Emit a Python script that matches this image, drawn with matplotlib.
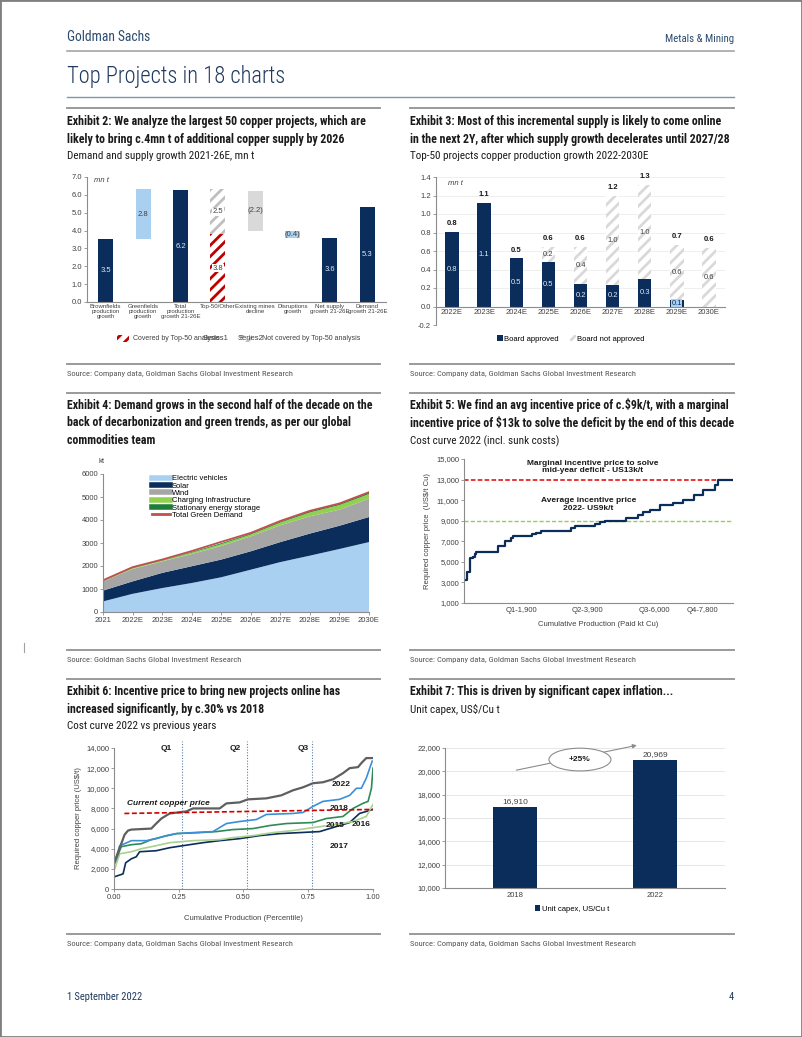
import os
import matplotlib
matplotlib.use('Agg')
import matplotlib.pyplot as plt
from matplotlib import font_manager as fm
from matplotlib.lines import Line2D
from matplotlib.patches import Rectangle, Ellipse

plt.rcParams['font.family'] = 'Liberation Sans'
plt.rcParams['hatch.linewidth'] = 2.0

W, H = 802, 1037
NAVY = '#0B2D5B'
LBLUE = '#A9D0F0'
GREY_TXT = '#404040'

# ---- data: Exhibit 2 (mn t)
ex2_cats = ['Brownfields\nproduction\ngrowth', 'Greenfields\nproduction\ngrowth',
            'Total\nproduction\ngrowth 21-26E', 'Top-50/Other', 'Existing mines\ndecline',
            'Disruptions\ngrowth', 'Net supply\ngrowth 21-26E', 'Demand\ngrowth 21-26E']
ex2_bottom = [0, 3.5, 0, 0, 4.0, 3.6, 0, 0]
ex2_height = [3.5, 2.8, 6.25, 3.8, 2.2, 0.4, 3.6, 5.3]
ex2_labels = ['3.5', '2.8', '6.2', '3.8', '(2.2)', '(0.4)', '3.6', '5.3']
ex2_other_bottom = 3.8
ex2_other_height = 2.5

# ---- data: Exhibit 3 (mn t)
ex3_years = ['2022E', '2023E', '2024E', '2025E', '2026E', '2027E', '2028E', '2029E', '2030E']
ex3_approved = [0.81, 1.12, 0.52, 0.48, 0.24, 0.23, 0.30, 0.07, -0.01]
ex3_not_approved = [0, 0, 0, 0.16, 0.40, 0.97, 1.01, 0.60, 0.63]
ex3_appr_lbl = ['0.8', '1.1', '0.5', '0.5', '0.2', '0.2', '0.3', '0.1', '']
ex3_not_lbl = ['', '', '', '0.2', '0.4', '1.0', '1.0', '0.6', '0.6']
ex3_total_lbl = ['0.8', '1.1', '0.5', '0.6', '0.6', '1.2', '1.3', '0.7', '0.6']

# ---- data: Exhibit 4 (kt)
ex4_years = ['2021', '2022E', '2023E', '2024E', '2025E', '2026E', '2027E', '2028E', '2029E', '2030E']
ex4_ev = [460, 790, 1040, 1260, 1510, 1840, 2170, 2450, 2740, 3040]
ex4_solar = [470, 540, 660, 730, 770, 800, 870, 960, 1010, 1090]
ex4_wind = [400, 540, 500, 530, 590, 650, 730, 750, 700, 800]
ex4_charging = [20, 40, 40, 60, 80, 80, 120, 170, 200, 200]
ex4_storage = [20, 20, 20, 30, 40, 40, 40, 50, 50, 60]
ex4_total = [1380, 1950, 2280, 2650, 3050, 3440, 3960, 4400, 4720, 5210]

# ---- data: Exhibit 5 cost curve 2022 (cumulative kt, US$/t)
ex5_x = [0, 109, 196, 293, 348, 402, 1109, 1326, 1522, 1598, 2228, 2359, 2500, 3500, 3609,
         4261, 4424, 4587, 5294, 5674, 5837, 6055, 6381, 6815, 7142, 7500, 7794, 8174, 8283, 8772]
ex5_y = [3200, 4000, 5400, 5500, 5800, 6000, 6500, 7000, 7300, 7500, 7700, 7800, 8000, 8300, 8500,
         8700, 8900, 9000, 9300, 9600, 9800, 10000, 10500, 10700, 11000, 11500, 12000, 12500, 13000, 13000]
ex5_ticks = [1870, 4040, 6220, 7790]
ex5_ticklabels = ['Q1-1,900', 'Q2-3,900', 'Q3-6,000', 'Q4-7,800']

# ---- data: Exhibit 6 cost curves (percentile, US$/t)
c2022_x = [0, 0.041, 0.054, 0.067, 0.144, 0.163, 0.183, 0.202, 0.215, 0.279, 0.305, 0.408, 0.434,
           0.485, 0.517, 0.588, 0.646, 0.691, 0.730, 0.768, 0.807, 0.846, 0.884, 0.910, 0.942, 0.955, 0.974, 1.0]
c2022_y = [2550, 5400, 5800, 5900, 6000, 6500, 7000, 7300, 7500, 7700, 8000, 8000, 8500,
           8600, 8900, 9000, 9300, 9800, 10100, 10500, 10600, 10900, 11500, 12000, 12100, 12500, 13000, 13000]
c2018_x = [0.006, 0.022, 0.041, 0.067, 0.125, 0.163, 0.202, 0.241, 0.305, 0.382, 0.408, 0.434, 0.485,
           0.550, 0.588, 0.691, 0.730, 0.768, 0.807, 0.871, 0.910, 0.936, 0.955, 0.974, 0.997]
c2018_y = [2800, 4300, 4500, 4800, 4800, 5000, 5300, 5500, 5600, 5700, 6100, 6500, 6700,
           6900, 7400, 7500, 7600, 8200, 8700, 8900, 9300, 10000, 10000, 11000, 12700]
c2016_x = [0.003, 0.028, 0.067, 0.106, 0.144, 0.189, 0.241, 0.331, 0.395, 0.459, 0.537, 0.601, 0.665,
           0.768, 0.820, 0.884, 0.923, 0.961, 0.981, 0.994, 1.0]
c2016_y = [2600, 4200, 4400, 4500, 4900, 5200, 5500, 5600, 5700, 5900, 6000, 6300, 6500,
           6600, 7000, 7200, 8000, 8500, 8700, 10000, 12000]
c2015_x = [0.003, 0.022, 0.067, 0.106, 0.163, 0.215, 0.305, 0.408, 0.459, 0.537, 0.614, 0.691, 0.768,
           0.858, 0.923, 0.974, 1.0]
c2015_y = [2000, 3500, 3700, 4000, 4300, 4600, 4800, 4900, 5100, 5300, 5600, 5800, 6100,
           6400, 6700, 7200, 8400]
c2017_x = [0, 0.035, 0.045, 0.067, 0.086, 0.099, 0.163, 0.215, 0.266, 0.344, 0.408, 0.485, 0.562,
           0.640, 0.717, 0.794, 0.858, 0.910, 0.948, 0.987, 1.0]
c2017_y = [1200, 1500, 2600, 3000, 3200, 3700, 3800, 4100, 4300, 4600, 4800, 5000, 5300,
           5500, 5600, 5700, 6200, 6600, 7500, 7800, 7900]
ex6_quartiles = [0.264, 0.513, 0.766]
ex6_copper_x = [0.04, 1.0]
ex6_copper_y = [7500, 7900]

# ---- data: Exhibit 7 unit capex
ex7_years = ['2018', '2022']
ex7_capex = [16910, 20969]


# condensed face for the report text (whatever narrow font is installed)
font_files = {os.path.basename(f.fname).lower(): f.fname for f in fm.fontManager.ttflist}
cond_reg, cond_bold = None, None
for reg, bold in [('robotocondensed-regular.ttf', 'robotocondensed-bold.ttf'),
                  ('liberationsansnarrow-regular.ttf', 'liberationsansnarrow-bold.ttf'),
                  ('notosans-condensed.ttf', 'notosans-condensedbold.ttf'),
                  ('dejavusanscondensed.ttf', 'dejavusanscondensed-bold.ttf'),
                  ('opensans-condensedregular.ttf', 'opensans-condensedbold.ttf')]:
    if reg in font_files and bold in font_files:
        cond_reg, cond_bold = font_files[reg], font_files[bold]
        break
cond_light = font_files.get('robotocondensed-light.ttf', cond_reg)


def cfont(bold=False, light=False):
    path = cond_bold if bold else (cond_light if light else cond_reg)
    if path:
        return fm.FontProperties(fname=path)
    return fm.FontProperties(family='Liberation Sans', weight='bold' if bold else 'normal')


fig = plt.figure(figsize=(8.02, 10.37), dpi=100)
renderer = fig.canvas.get_renderer()


def add_ax(l, t, r, b):
    return fig.add_axes([l / W, 1 - b / H, (r - l) / W, (b - t) / H])


def ftext(x, y, s, **kw):
    kw.setdefault('va', 'center')
    return fig.text(x / W, 1 - y / H, s, **kw)


def fit_size(s, bold, target_px, light=False):
    # font size that gives the printed width of this line
    fp = cfont(bold, light)
    fp.set_size(10)
    t = fig.text(0, 0, s, fontproperties=fp)
    w = t.get_window_extent(renderer=renderer).width
    t.remove()
    return 10 * target_px / w


def ctext(x, y, s, size, bold=False, light=False, **kw):
    fp = cfont(bold, light)
    fp.set_size(size)
    return ftext(x, y, s, fontproperties=fp, **kw)


def hline(x0, x1, y, color='#9A9A9A', lw=1.4):
    fig.add_artist(Line2D([x0 / W, x1 / W], [1 - y / H, 1 - y / H], color=color, lw=lw))


def style(ax):
    for s in ['top', 'right']:
        ax.spines[s].set_visible(False)
    for s in ['left', 'bottom']:
        ax.spines[s].set_color('#8C8C8C')
        ax.spines[s].set_linewidth(0.8)
    ax.tick_params(labelsize=5.5, colors='#8C8C8C', labelcolor=GREY_TXT, length=2, width=0.6, pad=1.5)


# ---- page furniture
fig.add_artist(Rectangle((0, 0), 1, 1, transform=fig.transFigure, fill=False, ec='#7F7F7F', lw=2))
ctext(67, 37, 'Goldman Sachs', fit_size('Goldman Sachs', False, 83), color='#2B4A6F')
ctext(734, 39, 'Metals & Mining', fit_size('Metals & Mining', False, 68), color='#2B4A6F', ha='right')
hline(67, 734, 51, '#A6A6A6', 1.2)
ctext(67, 76, 'Top Projects in 18 charts', fit_size('Top Projects in 18 charts', False, 218, True),
      light=True, color='#1F3A60')
hline(67, 734, 97, '#7F94AE', 1.0)
fig.add_artist(Line2D([24 / W, 24 / W], [1 - 643 / H, 1 - 652 / H], color='#A0A0A0', lw=0.8))

L0, L1, R0, R1 = 67, 380, 410, 734
for y in [108, 393, 679, 364, 650, 934]:
    hline(L0, L1, y)
    hline(R0, R1, y)

TB = fit_size('Exhibit 3: Most of this incremental supply is likely to come online', True, 311)
TS = fit_size('Top-50 projects copper production growth 2022-2030E', False, 238)
SR = fit_size('Source: Company data, Goldman Sachs Global Investment Research', False, 225)
TXT = '#1A1A1A'

ctext(L0, 121, 'Exhibit 2: We analyze the largest 50 copper projects, which are', TB, True, color=TXT)
ctext(L0, 139, 'likely to bring c.4mn t of additional copper supply by 2026', TB, True, color=TXT)
ctext(L0, 156, 'Demand and supply growth 2021-26E, mn t', TS, color=TXT)
ctext(R0, 121, 'Exhibit 3: Most of this incremental supply is likely to come online', TB, True, color=TXT)
ctext(R0, 139, 'in the next 2Y, after which supply growth decelerates until 2027/28', TB, True, color=TXT)
ctext(R0, 156, 'Top-50 projects copper production growth 2022-2030E', TS, color=TXT)
ctext(L0, 374, 'Source: Company data, Goldman Sachs Global Investment Research', SR, color='#555555')
ctext(R0, 374, 'Source: Company data, Goldman Sachs Global Investment Research', SR, color='#555555')

ctext(L0, 405, 'Exhibit 4: Demand grows in the second half of the decade on the', TB, True, color=TXT)
ctext(L0, 423, 'back of decarbonization and green trends, as per our global', TB, True, color=TXT)
ctext(L0, 441, 'commodities team', TB, True, color=TXT)
ctext(R0, 405, 'Exhibit 5: We find an avg incentive price of c.\\$9k/t, with a marginal', TB, True, color=TXT)
ctext(R0, 423, 'incentive price of \\$13k to solve the deficit by the end of this decade', TB, True, color=TXT)
ctext(R0, 441, 'Cost curve 2022 (incl. sunk costs)', TS, color=TXT)
ctext(L0, 660, 'Source: Goldman Sachs Global Investment Research', SR, color='#555555')
ctext(R0, 660, 'Source: Company data, Goldman Sachs Global Investment Research', SR, color='#555555')

ctext(L0, 691, 'Exhibit 6: Incentive price to bring new projects online has', TB, True, color=TXT)
ctext(L0, 709, 'increased significantly, by c.30% vs 2018', TB, True, color=TXT)
ctext(L0, 726, 'Cost curve 2022 vs previous years', TS, color=TXT)
ctext(R0, 691, 'Exhibit 7: This is driven by significant capex inflation...', TB, True, color=TXT)
ctext(R0, 709, 'Unit capex, US\\$/Cu t', TS, color=TXT)
ctext(L0, 944, 'Source: Company data, Goldman Sachs Global Investment Research', SR, color='#555555')
ctext(R0, 944, 'Source: Company data, Goldman Sachs Global Investment Research', SR, color='#555555')

FT = fit_size('1 September 2022', False, 75)
ctext(L0, 997, '1 September 2022', FT, color='#1F3A60')
ctext(R1, 997, '4', FT, color='#1F3A60', ha='right')

# ---- Exhibit 2
ax = add_ax(87, 177, 386, 302)
style(ax)
x2 = list(range(len(ex2_cats)))
fills = [NAVY, LBLUE, NAVY, None, '#D9D9D9', LBLUE, NAVY, NAVY]
for i in x2:
    if fills[i] is None:
        ax.bar(i, ex2_height[i], bottom=ex2_bottom[i], width=0.4, color='white',
               edgecolor='#C00000', hatch='///', linewidth=0)
        ax.bar(i, ex2_other_height, bottom=ex2_other_bottom, width=0.4, color='white',
               edgecolor='#BFBFBF', hatch='///', linewidth=0)
    else:
        ax.bar(i, ex2_height[i], bottom=ex2_bottom[i], width=0.4, color=fills[i], linewidth=0)
for i in x2:
    yc = ex2_bottom[i] + ex2_height[i] / 2
    if fills[i] == NAVY:
        ax.text(i, yc, ex2_labels[i], ha='center', va='center', fontsize=5.5, color='#DDEBF7')
    elif fills[i] is None:
        ax.text(i, yc, ex2_labels[i], ha='center', va='center', fontsize=5.5, color='#404040',
                bbox=dict(fc='white', ec='none', pad=0.3))
        ax.text(i, ex2_other_bottom + ex2_other_height / 2, '2.5', ha='center', va='center',
                fontsize=5.5, color='#404040', bbox=dict(fc='white', ec='none', pad=0.3))
    else:
        ax.text(i, yc, ex2_labels[i], ha='center', va='center', fontsize=5.5, color='#404040')
ax.set_xlim(-0.5, 7.5)
ax.set_ylim(0, 7)
ax.set_yticks([0, 1, 2, 3, 4, 5, 6, 7])
ax.set_yticklabels(['%.1f' % v for v in range(8)])
ax.set_xticks(x2)
ax.set_xticklabels(ex2_cats, fontsize=4.4, linespacing=1.0)
ax.tick_params(axis='x', length=0)
ax.text(-0.3, 6.8, 'mn t', fontsize=5.5, style='italic', color='#404040', va='center')
# legend as printed in the report (labels overlap there too)
for (x0, col) in [(117, '#C00000'), (240, '#BFBFBF')]:
    fig.add_artist(Rectangle((x0 / W, 1 - 342 / H), 12 / W, 7 / H, transform=fig.transFigure,
                             facecolor='white', edgecolor=col, hatch='///', lw=0))
ftext(133, 338, 'Covered by Top-50 analysis', fontsize=5, color='#404040')
ftext(203, 338, 'Series1', fontsize=5.5, color='#404040')
ftext(238, 338, 'Series2', fontsize=5.5, color='#404040')
ftext(262, 338, 'Not covered by Top-50 analysis', fontsize=5, color='#404040')

# ---- Exhibit 3
ax = add_ax(436, 177, 725, 325)
style(ax)
x3 = list(range(len(ex3_years)))
ax.bar(x3, ex3_approved, width=0.42, color=NAVY, linewidth=0, zorder=2)
bot = [max(v, 0) for v in ex3_approved]
ax.bar(x3, ex3_not_approved, bottom=bot, width=0.42, color='white', edgecolor='#D9D9D9',
       hatch='///', linewidth=0, zorder=2)
for i in x3:
    a, n = ex3_approved[i], ex3_not_approved[i]
    if ex3_appr_lbl[i]:
        if a > 0.15:
            ax.text(i, a / 2, ex3_appr_lbl[i], ha='center', va='center', fontsize=5.5, color='#DDEBF7', zorder=3)
        else:
            ax.text(i, 0.035, ex3_appr_lbl[i], ha='center', va='center', fontsize=5.5, color=NAVY, zorder=3,
                    bbox=dict(fc=LBLUE, ec='none', pad=0.3))
    if ex3_not_lbl[i]:
        ax.text(i, bot[i] + n / 2, ex3_not_lbl[i], ha='center', va='center', fontsize=5.5, color='#404040', zorder=3)
    ax.text(i, max(a, 0) + n + 0.09, ex3_total_lbl[i], ha='center', va='center', fontsize=5.5,
            fontweight='bold', color='#1A1A1A', zorder=3)
ax.set_xlim(-0.5, 8.5)
ax.set_ylim(-0.2, 1.4)
ax.set_yticks([-0.2, 0, 0.2, 0.4, 0.6, 0.8, 1.0, 1.2, 1.4])
ax.set_yticklabels(['-0.2', '0.0', '0.2', '0.4', '0.6', '0.8', '1.0', '1.2', '1.4'])
ax.spines['bottom'].set_position(('data', 0))
ax.set_xticks(x3)
ax.set_xticklabels(ex3_years)
ax.tick_params(axis='x', length=0)
ax.yaxis.grid(True, color='#EDEDED', lw=0.6, zorder=0)
ax.set_axisbelow(True)
ax.text(-0.12, 1.33, 'mn t', fontsize=5.5, style='italic', color='#404040', va='center')
fig.legend(handles=[Rectangle((0, 0), 1, 1, fc=NAVY, lw=0),
                    Rectangle((0, 0), 1, 1, fc='white', ec='#D9D9D9', hatch='///', lw=0)],
           labels=['Board approved', 'Board not approved'], ncol=2, frameon=False, fontsize=5.5,
           handlelength=0.7, handleheight=0.7, handletextpad=0.2, columnspacing=1.5,
           loc='center', bbox_to_anchor=(571 / W, 1 - 339 / H))

# ---- Exhibit 4
ax = add_ax(103, 474, 369, 612)
style(ax)
x4 = list(range(len(ex4_years)))
ax.stackplot(x4, ex4_ev, ex4_solar, ex4_wind, ex4_charging, ex4_storage,
             colors=[LBLUE, NAVY, '#A6A6A6', '#92D050', '#1E7D3C'], linewidth=0)
ax.plot(x4, ex4_total, color='#C0504D', lw=1.3)
ax.set_xlim(0, 9)
ax.set_ylim(0, 6000)
ax.set_yticks(range(0, 6001, 1000))
ax.set_xticks(x4)
ax.set_xticklabels(ex4_years)
ax.text(-0.15, 6550, 'kt', fontsize=5.5, color='#404040', va='center')
h4 = [Line2D([], [], color=c, lw=w) for c, w in
      [(LBLUE, 4), (NAVY, 4), ('#A6A6A6', 4), ('#92D050', 4), ('#1E7D3C', 4), ('#C0504D', 2)]]
ax.legend(h4, ['Electric vehicles', 'Solar', 'Wind', 'Charging Infrastructure',
               'Stationary energy storage', 'Total Green Demand'],
          loc='upper left', bbox_to_anchor=(0.17, 1.02), frameon=False, fontsize=5.5,
          handlelength=2.3, handletextpad=0.25, labelspacing=0.0, borderpad=0)

# ---- Exhibit 5
ax = add_ax(464, 459, 733, 603)
style(ax)
ax.axhline(13000, color='#E00000', lw=1.1, ls=(0, (3, 1.5)))
ax.axhline(9000, color='#92D050', lw=1.0, ls=(0, (3, 1.5)))
ax.step(ex5_x, ex5_y, where='post', color=NAVY, lw=1.6)
ax.set_xlim(0, 8772)
ax.set_ylim(1000, 15000)
ax.set_yticks(range(1000, 15001, 2000))
ax.set_yticklabels(['{:,}'.format(v) for v in range(1000, 15001, 2000)])
ax.set_xticks(ex5_ticks)
ax.set_xticklabels(ex5_ticklabels)
ax.tick_params(axis='x', length=0, pad=3)
ax.text(4200, 14200, 'Marginal incentive price to solve\nmid-year deficit - US13k/t', ha='center',
        va='center', fontsize=6, fontweight='bold', color='#1A1A1A', linespacing=1.1)
ax.text(4050, 10600, 'Average incentive price\n2022- US9k/t', ha='center', va='center',
        fontsize=6, fontweight='bold', color='#1A1A1A', linespacing=1.1)
ax.set_ylabel('Required copper price  (US\\$/t Cu)', fontsize=5.5, color='#404040', labelpad=4)
ax.set_xlabel('Cumulative Production (Paid kt Cu)', fontsize=5.5, color='#404040', labelpad=5)

# ---- Exhibit 6
ax = add_ax(114, 748, 373, 889)
style(ax)
for q in ex6_quartiles:
    ax.plot([q, q], [0, 14700], color='#5B7FA6', lw=0.8, ls=(0, (1, 1.5)), clip_on=False)
for qx, qt in zip([0.20, 0.47, 0.73], ['Q1', 'Q2', 'Q3']):
    ax.text(qx, 14000, qt, fontsize=6, fontweight='bold', color='#1A1A1A', ha='center', va='center')
ax.plot(c2017_x, c2017_y, color=NAVY, lw=1.2)
ax.plot(c2015_x, c2015_y, color='#A9D18E', lw=1.2)
ax.plot(c2016_x, c2016_y, color='#2E8B57', lw=1.2)
ax.plot(c2018_x, c2018_y, color='#3A8FD8', lw=1.2)
ax.plot(c2022_x, c2022_y, color='#5F5F5F', lw=1.6)
ax.plot(ex6_copper_x, ex6_copper_y, color='#D00000', lw=1.2, ls=(0, (3, 1.5)), clip_on=False)
ax.text(0.05, 8450, 'Current copper price', fontsize=6, fontweight='bold', style='italic',
        color='#1A1A1A', va='center')
for tx, ty, lab in [(0.878, 10420, '2022'), (0.869, 7960, '2018'), (0.852, 6300, '2015'),
                    (0.955, 6440, '2016'), (0.871, 4210, '2017')]:
    ax.text(tx, ty, lab, fontsize=6, fontweight='bold', color='#1A1A1A', ha='center', va='center')
ax.set_xlim(0, 1)
ax.set_ylim(0, 14000)
ax.set_yticks(range(0, 14001, 2000))
ax.set_yticklabels(['{:,}'.format(v) for v in range(0, 14001, 2000)])
ax.set_xticks([0, 0.25, 0.5, 0.75, 1.0])
ax.set_xticklabels(['0.00', '0.25', '0.50', '0.75', '1.00'])
ax.set_ylabel('Required copper price (US\\$/t)', fontsize=5.5, color='#404040', labelpad=3)
ax.set_xlabel('Cumulative Production (Percentile)', fontsize=5.5, color='#404040', labelpad=10)

# ---- Exhibit 7
ax = add_ax(445, 748, 725, 888)
style(ax)
ax.bar([0, 1], ex7_capex, width=0.31, color=NAVY, linewidth=0, zorder=2)
for i, v in enumerate(ex7_capex):
    ax.text(i, v + 500, '{:,}'.format(v), ha='center', va='center', fontsize=6, color='#404040')
ax.set_xlim(-0.5, 1.5)
ax.set_ylim(10000, 22000)
ax.set_yticks(range(10000, 22001, 2000))
ax.set_yticklabels(['{:,}'.format(v) for v in range(10000, 22001, 2000)])
ax.set_xticks([0, 1])
ax.set_xticklabels(ex7_years)
ax.tick_params(axis='x', length=0, pad=3)
ax.yaxis.grid(True, color='#E3E3E3', lw=0.6, zorder=0)
ax.set_axisbelow(True)
ax.annotate('', xy=(0.89, 22280), xytext=(-0.01, 20050), annotation_clip=False,
            arrowprops=dict(arrowstyle='-|>', color='#8C8C8C', lw=0.8, mutation_scale=6))
ax.add_patch(Ellipse((0.464, 21010), 0.443, 1950, facecolor='white', edgecolor='#8C8C8C',
                     lw=0.8, zorder=4, clip_on=False))
ax.text(0.464, 21010, '+25%', ha='center', va='center', fontsize=6, fontweight='bold',
        color='#1A1A1A', zorder=5)
fig.legend(handles=[Rectangle((0, 0), 1, 1, fc=NAVY, lw=0)], labels=['Unit capex, US/Cu t'],
           frameon=False, fontsize=5.5, handlelength=0.7, handleheight=0.7, handletextpad=0.2,
           loc='center', bbox_to_anchor=(572 / W, 1 - 909 / H))

fig.savefig('out.png', dpi=100)
